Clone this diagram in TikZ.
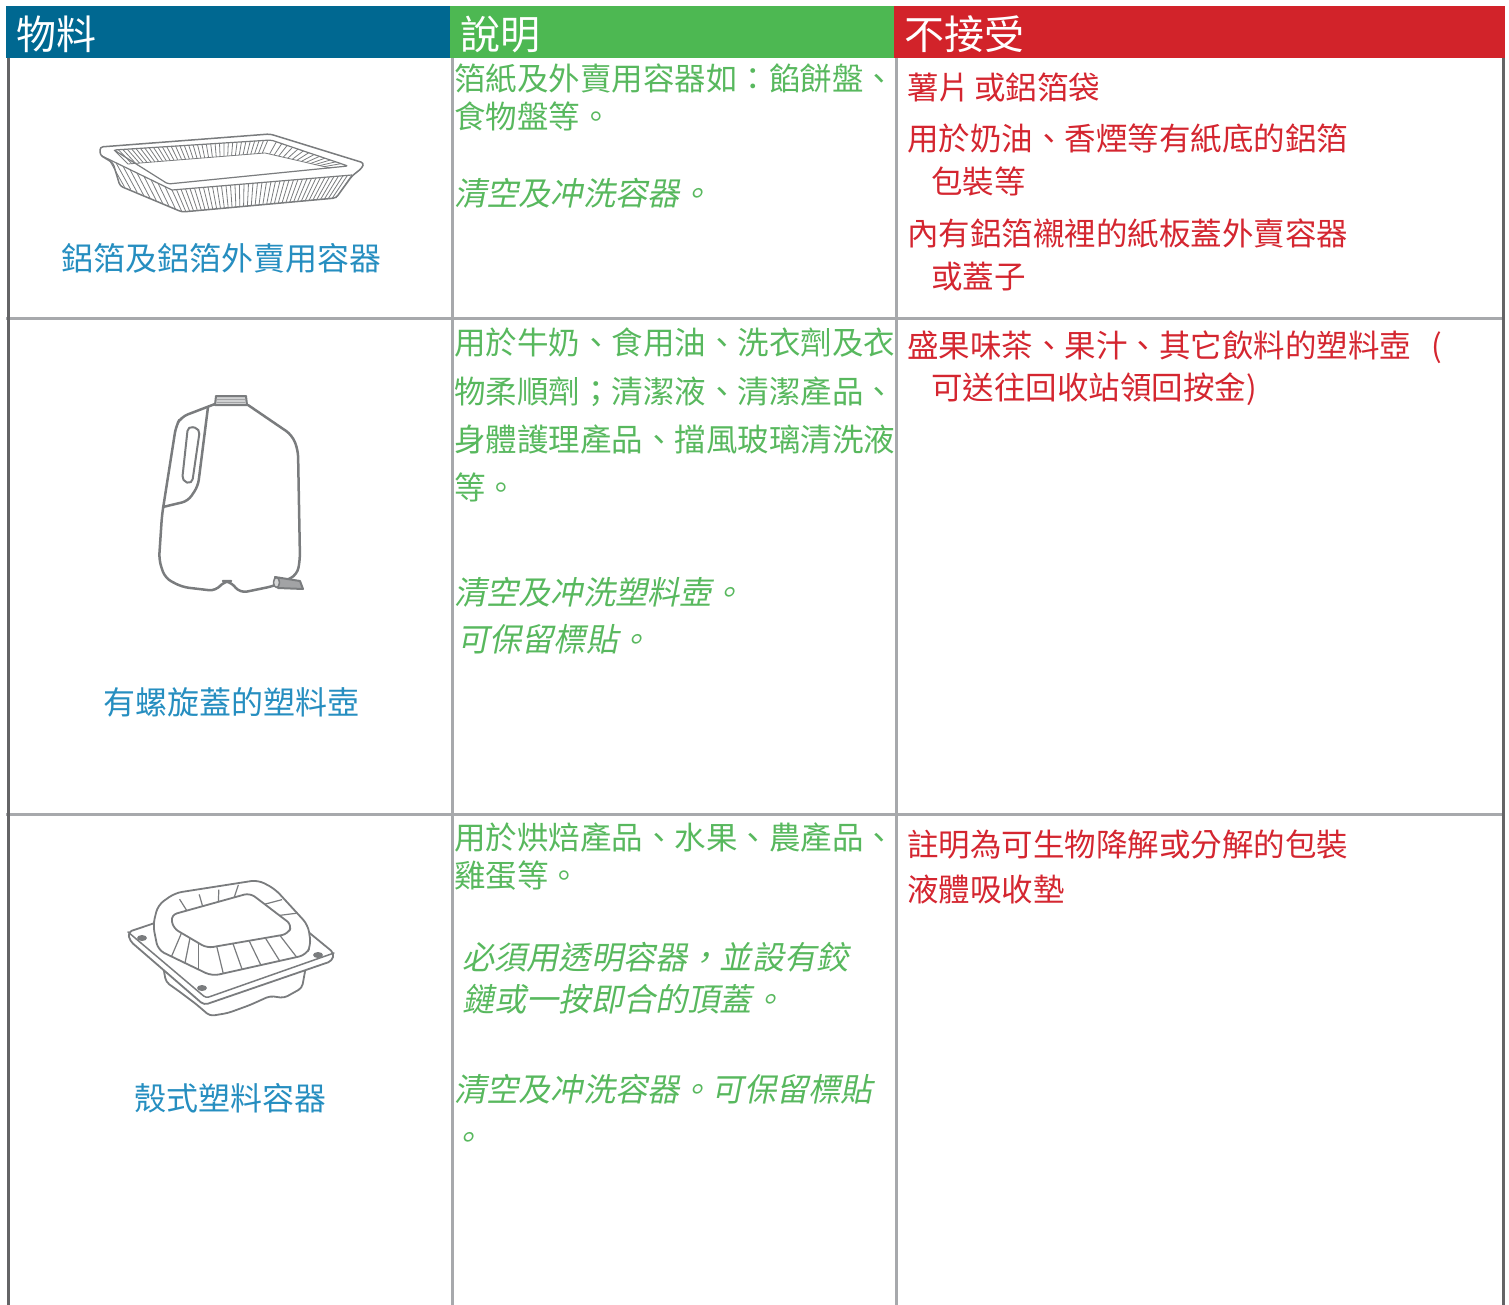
\documentclass[tikz,border=0pt]{standalone}
\usepackage{fontspec}
\usepackage{tikz,xcolor}
\newfontfamily\tcfont{Noto Sans CJK TC}
\newfontfamily\tcslant{Noto Sans CJK TC}[FakeSlant=0.2]
\definecolor{hdrblue}{RGB}{0,104,145}
\definecolor{hdrgreen}{RGB}{77,184,82}
\definecolor{hdrred}{RGB}{210,35,42}
\definecolor{txtgreen}{RGB}{88,184,94}
\definecolor{txtred}{RGB}{212,38,48}
\definecolor{txtblue}{RGB}{38,142,192}
\definecolor{rulegray}{RGB}{167,169,172}
\definecolor{edgegray}{RGB}{100,100,102}
\definecolor{icongray}{RGB}{122,124,126}
\tikzset{
  hdr/.style={anchor=base west,inner sep=0pt,text=white,font=\tcfont\fontsize{40}{48}\selectfont},
  gtxt/.style={anchor=base west,inner sep=0pt,text=txtgreen,font=\tcfont\fontsize{31.5}{37}\selectfont},
  gslant/.style={gtxt,font=\tcslant\fontsize{32.2}{37}\selectfont},
  rtxt/.style={anchor=base west,inner sep=0pt,text=txtred,font=\tcfont\fontsize{31.5}{37}\selectfont},
  lbl/.style={anchor=base,inner sep=0pt,text=txtblue,font=\tcfont\fontsize{32}{38}\selectfont},
  icon/.style={draw=icongray,line width=2pt,line join=round,line cap=round},
  rib/.style={draw=icongray,line width=0.8pt}
}
\begin{document}
\begin{tikzpicture}[x=1pt,y=-1pt]
\useasboundingbox (0,0) rectangle (1509,1305);
\fill[hdrblue] (6,6) rectangle (450,58);
\fill[hdrgreen] (450,6) rectangle (894,58);
\fill[hdrred] (894,6) rectangle (1505,58);
\draw[rulegray,line width=3pt] (6,319) -- (1505,319);
\draw[rulegray,line width=3pt] (6,814) -- (1505,814);
\draw[rulegray,line width=3pt] (452,58) -- (452,1305);
\draw[rulegray,line width=3pt] (896,58) -- (896,1305);
\draw[edgegray,line width=3pt] (8,58) -- (8,1305);
\draw[edgegray,line width=3pt] (1503,58) -- (1503,1305);
\node[hdr] (hmat) at (16,50) {物料};
\node[hdr] (hdesc) at (460,50) {說明};
\node[hdr] (hrej) at (904,50) {不接受};

\node[lbl] (lfoil) at (221,271) {鋁箔及鋁箔外賣用容器};
\node[lbl] (ljug) at (231,714) {有螺旋蓋的塑料壺};
\node[lbl] (lshell) at (230,1110) {殼式塑料容器};

\node[gtxt] (dfoila) at (454,91) {箔紙及外賣用容器如：餡餅盤、};
\node[gtxt] (dfoilb) at (454,129) {食物盤等。};
\node[gslant] (dfoilc) at (454,206) {清空及冲洗容器。};
\node[rtxt] (rfoila) at (907,100) {薯片\kern4pt 或鋁箔袋};
\node[rtxt] (rfoilb) at (907,151) {用於奶油、香煙等有紙底的鋁箔};
\node[rtxt] (rfoilc) at (931,194) {包裝等};
\node[rtxt] (rfoild) at (907,246) {內有鋁箔襯裡的紙板蓋外賣容器};
\node[rtxt] (rfoile) at (931,289) {或蓋子};

\node[gtxt] (djuga) at (454,355) {用於牛奶、食用油、洗衣劑及衣};
\node[gtxt] (djugb) at (454,403) {物柔順劑；清潔液、清潔產品、};
\node[gtxt] (djugc) at (454,451) {身體護理產品、擋風玻璃清洗液};
\node[gtxt] (djugd) at (454,499) {等。};
\node[gslant] (djuge) at (454,604) {清空及冲洗塑料壺。};
\node[gslant] (djugf) at (457,651) {可保留標貼。};
\node[rtxt] (rjuga) at (907,357) {盛果味茶、果汁、其它飲料的塑料壺\kern20pt(};
\node[rtxt] (rjugb) at (931,399) {可送往回收站領回按金)};

\node[gtxt] (dshella) at (454,849) {用於烘焙產品、水果、農產品、};
\node[gtxt] (dshellb) at (454,887) {雞蛋等。};
\node[gslant] (dshellc) at (462,969) {必須用透明容器，並設有鉸};
\node[gslant] (dshelld) at (462,1011) {鏈或一按即合的頂蓋。};
\node[gslant] (dshelle) at (454,1101) {清空及冲洗容器。可保留標貼};
\node[gslant] (dshellf) at (450,1149) {。};
\node[rtxt] (rshella) at (907,856) {註明為可生物降解或分解的包裝};
\node[rtxt] (rshellb) at (907,901) {液體吸收墊};

\foreach \t in {0,0.025,...,1.001}
  \draw[rib] ({172+180*\t},{190-15*\t}) -- ({182+154*\t},{212-14*\t});
\foreach \t in {0.1,0.2,...,0.95}
  \draw[rib] ({102+70*\t},{156+34*\t}) -- ({118+64*\t},{184+28*\t});
\foreach \t in {0,0.028,...,1.001}
  \draw[rib] ({114+157*\t},{150-10*\t}) -- ({128+137*\t},{164-11*\t});
\foreach \t in {0.07,0.14,...,0.95}
  \draw[rib] ({271+77*\t},{140+26*\t}) -- ({265+65*\t},{153+15*\t});
\draw[icon,line width=1.5pt,rounded corners=3pt] (100,147) -- (270,134) -- (364,163) -- (362,168) -- (352,176) -- (336,198) -- (182,212) -- (120,186) -- (113,163) -- (100,155) -- cycle;
\draw[icon,line width=1.2pt,rounded corners=2pt] (114,150) -- (271,140) -- (348,166) -- (168,184) -- cycle;
\draw[icon,line width=1.2pt] (102,156) -- (172,190) -- (352,175);
\draw[icon,line width=0.8pt] (128,164) -- (265,153) -- (330,168);

\draw[icon,line width=2.5pt,rounded corners=7pt] (215,404) -- (181,417) -- (176,426) -- (162,515) -- (159,560) -- (165,578) -- (182,587) -- (216,591) -- (224,581) -- (230,581) -- (240,593) -- (274,586) -- (297,575) -- (300,560) -- (298,450) -- (292,435) -- (248,405);
\draw[icon,line width=2.5pt,rounded corners=6pt] (208,407) -- (198,486) -- (188,501) -- (163,507);
\draw[icon,line width=2pt,rounded corners=5pt] (188,426) -- (200,429) -- (192,484) -- (182,481) -- cycle;
\draw[icon,line width=2pt,fill=icongray!35] (216,396) -- (246,396) -- (247,405) -- (215,405) -- cycle;
\draw[icongray!70,line width=1pt] (217,399) -- (245,399) (217,402) -- (245,402);
\draw[icon,line width=2pt,fill=icongray!70] (275,577) -- (300,581) -- (303,589) -- (278,588) -- cycle;
\draw[icon,line width=1.5pt,fill=icongray!30] (276.5,582.5) ellipse [x radius=3pt,y radius=5pt];

\draw[icon,line width=1.8pt,rounded corners=4pt,fill=white] (163,966) -- (166,982) -- (180,992) -- (196,1004) -- (210,1016) -- (228,1013) -- (250,1005) -- (270,996) -- (284,998) -- (302,988) -- (306,966);
\draw[icon,line width=1.8pt,rounded corners=4pt,fill=white] (204,1005) -- (130,941) -- (128,932) -- (256,889) -- (334,953) -- (332,961) -- cycle;
\draw[icon,line width=1.5pt,rounded corners=3pt] (128,932) -- (206,998) -- (334,953);
\fill[icongray] (142,938) ellipse [x radius=5pt,y radius=3pt];
\fill[icongray] (318,955) ellipse [x radius=5pt,y radius=3pt];
\fill[icongray] (202,988) ellipse [x radius=5pt,y radius=3pt];
\draw[icon,line width=1.8pt,rounded corners=7pt,fill=white] (158,950) -- (153,925) -- (158,905) -- (175,893) -- (258,880) -- (275,889) -- (308,925) -- (311,945) -- (306,955) -- (212,976) -- cycle;
\draw[icon,line width=1.8pt,rounded corners=6pt,fill=white] (171,915) -- (250,893) -- (292,925) -- (288,934) -- (207,948) -- (173,928) -- cycle;
\foreach \t in {0.12,0.32,0.52,0.72,0.9}
  \draw[rib,line width=1.2pt] ({207+81*\t},{948-14*\t}) -- ({212+94*\t},{976-21*\t});
\foreach \t in {0.25,0.5,0.75}
  \draw[rib,line width=1.2pt] ({173+34*\t},{928+20*\t}) -- ({158+54*\t},{950+26*\t});
\foreach \t in {0.2,0.4,0.6,0.8}
  \draw[rib,line width=1.2pt] ({171+79*\t},{915-22*\t}) -- ({160+98*\t},{904-24*\t});
\foreach \t in {0.35,0.7}
  \draw[rib,line width=1.2pt] ({250+42*\t},{893+32*\t}) -- ({268+40*\t},{886+39*\t});
\end{tikzpicture}
\end{document}
